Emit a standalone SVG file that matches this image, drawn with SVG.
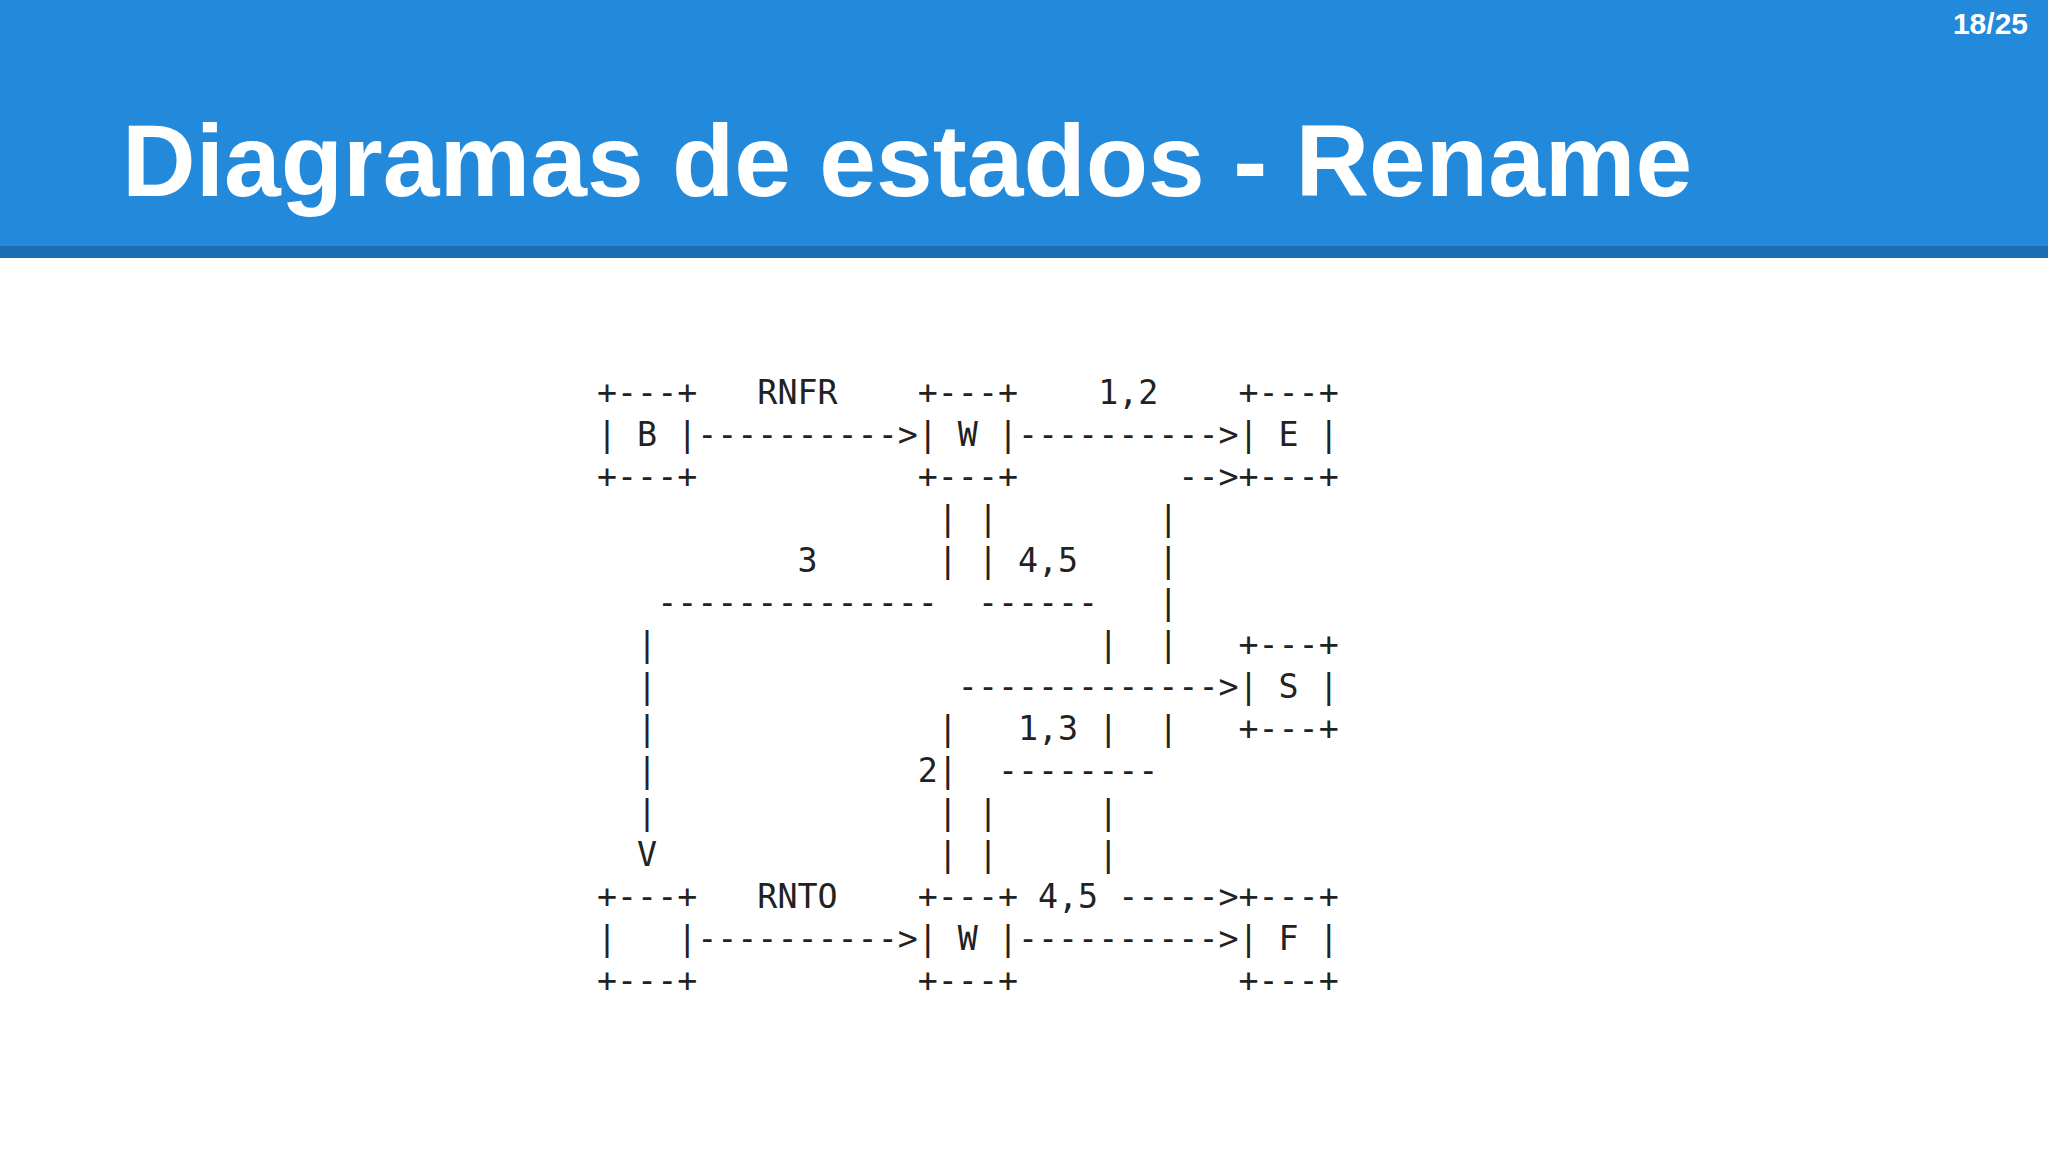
<svg xmlns="http://www.w3.org/2000/svg" width="2048" height="1152" viewBox="0 0 2048 1152" xml:space="preserve">
<style>
.a{font-family:"DejaVu Sans Mono","Liberation Mono",monospace;font-size:33.3px;fill:#222;white-space:pre}
.h{font-family:"Liberation Sans",Arial,sans-serif;font-weight:bold;fill:#fff}
</style>
<rect width="2048" height="1152" fill="#fff"/>
<rect width="2048" height="248" fill="#2389DB"/>
<rect y="246" width="2048" height="12" fill="#1B6DB5"/>
<text class="h" x="2028" y="34" font-size="30" text-anchor="end">18/25</text>
<text class="h" x="122" y="196" font-size="102">Diagramas de estados - Rename</text>
<g id="ascii" class="a">
<text xml:space="preserve" x="597" y="404">+---+   RNFR    +---+    1,2    +---+</text>
<text xml:space="preserve" x="597" y="446">| B |----------&gt;| W |----------&gt;| E |</text>
<text xml:space="preserve" x="597" y="488">+---+           +---+        --&gt;+---+</text>
<text xml:space="preserve" x="597" y="530">                 | |        |</text>
<text xml:space="preserve" x="597" y="572">          3      | | 4,5    |</text>
<text xml:space="preserve" x="597" y="614">   --------------  ------   |</text>
<text xml:space="preserve" x="597" y="656">  |                      |  |   +---+</text>
<text xml:space="preserve" x="597" y="698">  |               -------------&gt;| S |</text>
<text xml:space="preserve" x="597" y="740">  |              |   1,3 |  |   +---+</text>
<text xml:space="preserve" x="597" y="782">  |             2|  --------</text>
<text xml:space="preserve" x="597" y="824">  |              | |     |</text>
<text xml:space="preserve" x="597" y="866">  V              | |     |</text>
<text xml:space="preserve" x="597" y="908">+---+   RNTO    +---+ 4,5 -----&gt;+---+</text>
<text xml:space="preserve" x="597" y="950">|   |----------&gt;| W |----------&gt;| F |</text>
<text xml:space="preserve" x="597" y="992">+---+           +---+           +---+</text>
</g>
</svg>
